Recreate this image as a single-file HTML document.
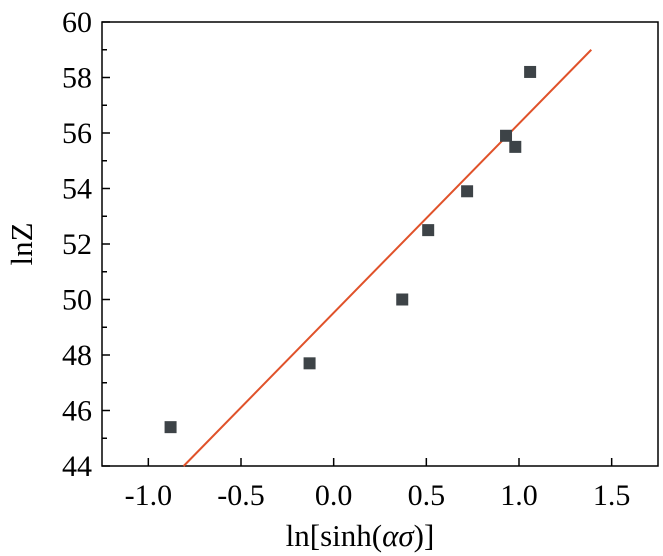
<!DOCTYPE html>
<html><head><meta charset="utf-8"><style>body{margin:0;background:#fff}svg{display:block}</style></head>
<body>
<svg id="chart" width="663" height="556" xmlns="http://www.w3.org/2000/svg" style="font-family:'Liberation Serif',serif">
</svg>
<script>
const xs = [-0.88, -0.13, 0.37, 0.51, 0.72, 0.93, 0.98, 1.06];
const ys = [45.4, 47.7, 50.0, 52.5, 53.9, 55.9, 55.5, 58.2];
const fitX = [-0.81, 1.39];
const fitSlope = 6.82;
const fitIntercept = 49.52;
const xTicks = [-1.0, -0.5, 0.0, 0.5, 1.0, 1.5];
const yTicks = [44, 46, 48, 50, 52, 54, 56, 58, 60];

const L=102,R=658,T=22,B=466;
const sx=v=>L+(v+1.25)/3*(R-L);
const sy=v=>B-(v-44)/16*(B-T);
const svg=document.getElementById('chart');
const NS='http://www.w3.org/2000/svg';
function mk(tag,attrs,parent){const e=document.createElementNS(NS,tag);for(const k in attrs)e.setAttribute(k,attrs[k]);(parent||svg).appendChild(e);return e;}

const frame=mk('rect',{x:L,y:T,width:R-L,height:B-T,fill:'none',stroke:'#000','stroke-width':1.5});



xTicks.forEach(t=>{
  const x=sx(t);
  const tk=mk('line',{x1:x,x2:x,y1:B,y2:B-8,stroke:'#000','stroke-width':1.5});
  
  
  const lb=mk('text',{x:x,y:B+39,'font-size':30,'text-anchor':'middle'});
  lb.textContent=t.toFixed(1);
  
  
});
yTicks.forEach((t,i)=>{
  const y=sy(t);
  const tk=mk('line',{x1:L,x2:L+8,y1:y,y2:y,stroke:'#000','stroke-width':1.5});
  
  
  if(i<yTicks.length-1){
    const m=mk('line',{x1:L,x2:L+5,y1:sy(t+1),y2:sy(t+1),stroke:'#000','stroke-width':1.5});
    
    
  }
  const lb=mk('text',{x:L-10,y:y+10,'font-size':30,'text-anchor':'end'});
  lb.textContent=t;
  
  
});

const fit=mk('line',{x1:sx(fitX[0]),y1:sy(fitIntercept+fitSlope*fitX[0]),x2:sx(fitX[1]),y2:sy(fitIntercept+fitSlope*fitX[1]),stroke:'#e0522a','stroke-width':2});



xs.forEach((v,i)=>{
  const p=mk('rect',{x:sx(v)-6,y:sy(ys[i])-6,width:12,height:12,fill:'#3d4347'});
  
  
});

const xt=mk('text',{x:(L+R)/2-20,y:546,'font-size':31,'text-anchor':'middle'});
xt.innerHTML='ln[sinh(<tspan font-style="italic">ασ</tspan>)]';


const yt=mk('text',{x:0,y:0,'font-size':31,'text-anchor':'middle',transform:'translate(32,244) rotate(-90)'});
yt.textContent='lnZ';


</script>
</body></html>
